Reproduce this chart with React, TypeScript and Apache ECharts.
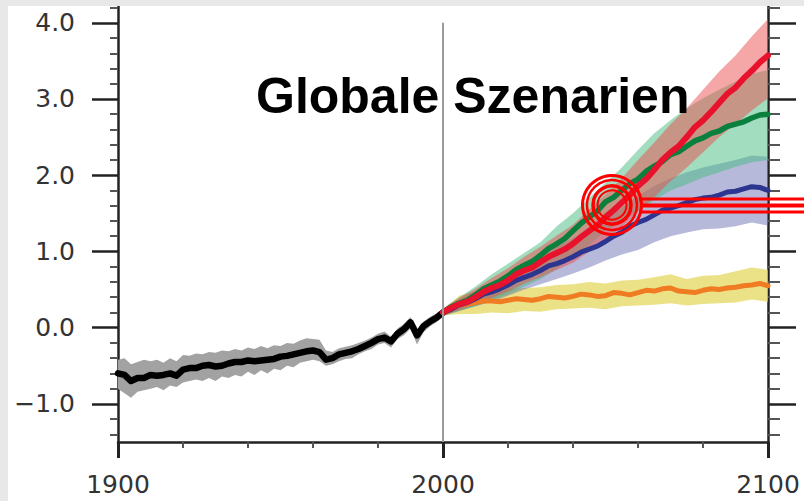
import React, { useEffect, useRef } from "react";
import * as echarts from "echarts";

// ---- Data ----
const histYears = [1900,1902,1904,1906,1908,1910,1912,1914,1916,1918,1920,1922,1924,1926,1928,1930,1932,1934,1936,1938,1940,1942,1944,1946,1948,1950,1952,1954,1956,1958,1960,1962,1964,1966,1968,1970,1972,1974,1976,1978,1980,1982,1984,1986,1988,1990,1992,1994,1996,1998,2000];
const histMean = [-0.60,-0.62,-0.70,-0.66,-0.66,-0.62,-0.63,-0.62,-0.60,-0.63,-0.55,-0.53,-0.53,-0.50,-0.49,-0.51,-0.50,-0.47,-0.45,-0.45,-0.43,-0.44,-0.43,-0.42,-0.41,-0.38,-0.37,-0.35,-0.33,-0.31,-0.30,-0.32,-0.42,-0.40,-0.35,-0.33,-0.31,-0.28,-0.24,-0.20,-0.15,-0.13,-0.18,-0.08,-0.02,0.07,-0.10,0.02,0.08,0.13,0.20];
const histLow = [-0.80,-0.86,-0.92,-0.84,-0.82,-0.80,-0.78,-0.82,-0.76,-0.78,-0.72,-0.70,-0.68,-0.70,-0.66,-0.70,-0.64,-0.66,-0.62,-0.64,-0.58,-0.62,-0.56,-0.60,-0.54,-0.56,-0.50,-0.52,-0.46,-0.44,-0.42,-0.44,-0.50,-0.48,-0.44,-0.41,-0.40,-0.35,-0.31,-0.28,-0.22,-0.20,-0.26,-0.15,-0.10,-0.01,-0.22,-0.06,0.02,0.07,0.15];
const histHigh = [-0.42,-0.40,-0.48,-0.45,-0.42,-0.44,-0.42,-0.46,-0.40,-0.44,-0.36,-0.37,-0.34,-0.35,-0.32,-0.33,-0.30,-0.31,-0.28,-0.30,-0.26,-0.28,-0.24,-0.27,-0.23,-0.24,-0.20,-0.21,-0.17,-0.14,-0.15,-0.16,-0.30,-0.32,-0.27,-0.25,-0.23,-0.20,-0.17,-0.13,-0.08,-0.05,-0.12,-0.01,0.05,0.14,-0.03,0.08,0.14,0.19,0.25];

// scenario bands (5-year steps)
const bandYears = [2000,2005,2010,2015,2020,2025,2030,2035,2040,2045,2050,2055,2060,2065,2070,2075,2080,2085,2090,2095,2100];
const a2Low = [0.16,0.23,0.30,0.39,0.47,0.58,0.66,0.76,0.85,1.00,1.15,1.32,1.52,1.71,1.92,2.10,2.30,2.50,2.67,2.85,3.01];
const a2High = [0.25,0.39,0.51,0.65,0.78,0.93,1.06,1.21,1.35,1.55,1.75,1.96,2.20,2.43,2.67,2.88,3.12,3.36,3.57,3.82,4.05];
const a1bLow = [0.15,0.22,0.28,0.36,0.44,0.54,0.64,0.77,0.92,1.08,1.27,1.40,1.53,1.67,1.80,1.88,1.97,2.04,2.11,2.17,2.20];
const a1bHigh = [0.25,0.40,0.54,0.70,0.84,0.98,1.12,1.33,1.50,1.70,1.90,2.10,2.33,2.55,2.72,2.88,3.01,3.12,3.23,3.33,3.38];
const b1Low = [0.16,0.22,0.28,0.34,0.42,0.50,0.57,0.64,0.71,0.79,0.88,0.96,1.02,1.12,1.20,1.25,1.29,1.30,1.33,1.38,1.34];
const b1High = [0.24,0.37,0.48,0.60,0.71,0.83,0.95,1.06,1.17,1.30,1.42,1.57,1.73,1.86,1.96,2.04,2.10,2.15,2.20,2.26,2.24];
const constLow = [0.16,0.18,0.18,0.20,0.19,0.22,0.21,0.24,0.25,0.26,0.24,0.28,0.29,0.30,0.32,0.29,0.31,0.32,0.33,0.37,0.34];
const constHigh = [0.24,0.42,0.47,0.49,0.51,0.52,0.53,0.56,0.57,0.60,0.58,0.62,0.63,0.66,0.70,0.64,0.68,0.69,0.74,0.79,0.76];

// scenario means (2.5-year steps)
const scenYears = [2000,2002.5,2005,2007.5,2010,2012.5,2015,2017.5,2020,2022.5,2025,2027.5,2030,2032.5,2035,2037.5,2040,2042.5,2045,2047.5,2050,2052.5,2055,2057.5,2060,2062.5,2065,2067.5,2070,2072.5,2075,2077.5,2080,2082.5,2085,2087.5,2090,2092.5,2095,2097.5,2100];
const a2Mean = [0.20,0.26,0.31,0.34,0.40,0.47,0.52,0.56,0.62,0.70,0.75,0.79,0.86,0.93,0.98,1.03,1.10,1.19,1.27,1.34,1.45,1.54,1.64,1.74,1.86,1.95,2.07,2.20,2.30,2.38,2.50,2.63,2.72,2.83,2.95,3.07,3.15,3.27,3.37,3.48,3.57];
const a1bMean = [0.20,0.27,0.32,0.36,0.43,0.51,0.56,0.61,0.68,0.76,0.82,0.87,0.95,1.04,1.10,1.17,1.27,1.37,1.45,1.53,1.65,1.71,1.80,1.89,1.95,2.05,2.12,2.18,2.27,2.31,2.38,2.45,2.49,2.55,2.58,2.64,2.67,2.70,2.75,2.79,2.80];
const b1Mean = [0.20,0.24,0.30,0.33,0.38,0.44,0.47,0.51,0.56,0.62,0.66,0.70,0.75,0.81,0.84,0.88,0.93,0.99,1.03,1.07,1.13,1.20,1.25,1.33,1.38,1.42,1.48,1.54,1.57,1.60,1.64,1.68,1.70,1.71,1.74,1.78,1.79,1.82,1.85,1.84,1.80];
const constMean = [0.20,0.27,0.30,0.31,0.33,0.35,0.35,0.34,0.36,0.38,0.37,0.36,0.38,0.41,0.40,0.39,0.41,0.44,0.43,0.41,0.42,0.46,0.45,0.43,0.46,0.49,0.48,0.51,0.52,0.48,0.47,0.46,0.49,0.51,0.50,0.52,0.53,0.55,0.56,0.58,0.55];

const yMajorTicks = [-1, 0, 1, 2, 3, 4];
const yMinorTicks = [-1.4,-1.2,-0.8,-0.6,-0.4,-0.2,0.2,0.4,0.6,0.8,1.2,1.4,1.6,1.8,2.2,2.4,2.6,2.8,3.2,3.4,3.6,3.8,4.2];
const titleText = "Globale Szenarien";

// ---- helpers ----
const pairs = (xs: number[], ys: number[]) => xs.map((x, i) => [x, ys[i]]);

function bandSeries(id: string, xs: number[], lo: number[], hi: number[], color: string) {
  return {
    type: "custom",
    name: id + "-band",
    silent: true,
    clip: true,
    data: xs.map((x, i) => [x, lo[i], hi[i]]),
    encode: { x: 0, y: [1, 2] },
    renderItem: (params: any, api: any) => {
      if (params.dataIndexInside !== 0) return null;
      const n = params.dataInsideLength;
      const upper: number[][] = [];
      const lower: number[][] = [];
      for (let j = 0; j < n; j++) {
        const x = api.value(0, j);
        upper.push(api.coord([x, api.value(2, j)]));
        lower.push(api.coord([x, api.value(1, j)]));
      }
      return {
        type: "polygon",
        shape: { points: upper.concat(lower.reverse()) },
        style: { fill: color, stroke: "none" },
        silent: true,
      };
    },
  };
}

function lineSeries(name: string, xs: number[], ys: number[], color: string, width: number, extra: any = {}) {
  return {
    type: "line",
    name,
    data: pairs(xs, ys),
    symbol: "none",
    silent: true,
    lineStyle: { color, width, join: "round", cap: "round" },
    ...extra,
  };
}

const labelFont = "'DejaVu Sans', sans-serif";
const axisColor = "#222";

export default function App() {
  const ref = useRef<HTMLDivElement>(null);
  useEffect(() => {
    if (!ref.current) return;
    const chart = echarts.init(ref.current, null, { renderer: "svg" });
    const yFmt = (v: number) => (v < 0 ? "\u2212" + Math.abs(v).toFixed(1) : v.toFixed(1));
    const yBase = { type: "value", min: -1.5, max: 4.22, splitLine: { show: false } };
    chart.setOption({
      animation: false,
      grid: { left: 110, right: 36, top: 0, bottom: 59 },
      xAxis: {
        type: "value",
        min: 1900,
        max: 2100,
        interval: 100,
        splitLine: { show: false },
        axisLine: { show: true, onZero: false, lineStyle: { color: axisColor, width: 2.5 } },
        axisTick: { show: true, length: 16, lineStyle: { color: axisColor, width: 3 } },
        minorTick: { show: true, splitNumber: 5, length: 6, lineStyle: { color: "#555", width: 2 } },
        minorSplitLine: { show: false },
        axisLabel: { fontSize: 25, fontFamily: labelFont, color: "#333", margin: 30, formatter: (v: number) => String(v) },
      },
      yAxis: [
        {
          ...yBase,
          position: "left",
          axisLine: { show: true, onZero: false, lineStyle: { color: axisColor, width: 2.5 } },
          axisTick: { show: true, customValues: yMajorTicks, length: 26, lineStyle: { color: axisColor, width: 2.5 } },
          axisLabel: { show: true, customValues: yMajorTicks, fontSize: 25, fontFamily: labelFont, color: "#333", margin: 43, formatter: yFmt },
        },
        {
          ...yBase,
          position: "left",
          axisLine: { show: false },
          axisTick: { show: true, customValues: yMinorTicks, length: 8, lineStyle: { color: "#555", width: 2 } },
          axisLabel: { show: false },
        },
        {
          ...yBase,
          position: "right",
          axisLine: { show: true, onZero: false, lineStyle: { color: axisColor, width: 2.5 } },
          axisTick: { show: true, customValues: yMajorTicks, length: 28, lineStyle: { color: axisColor, width: 2.5 } },
          axisLabel: { show: false },
        },
        {
          ...yBase,
          position: "right",
          axisLine: { show: false },
          axisTick: { show: true, customValues: yMinorTicks, length: 12, lineStyle: { color: "#555", width: 2 } },
          axisLabel: { show: false },
        },
      ],
      series: [
        bandSeries("hist", histYears, histLow, histHigh, "#a2a2a2"),
        bandSeries("const", bandYears, constLow, constHigh, "rgba(226,214,85,0.7)"),
        bandSeries("b1", bandYears, b1Low, b1High, "rgba(112,116,182,0.5)"),
        bandSeries("a1b", bandYears, a1bLow, a1bHigh, "rgba(70,188,128,0.5)"),
        bandSeries("a2", bandYears, a2Low, a2High, "rgba(236,78,78,0.5)"),
        lineSeries("hist", histYears, histMean, "#000000", 6.5, {
          markLine: {
            silent: true,
            symbol: ["none", "none"],
            label: { show: false },
            lineStyle: { color: "#9a9a9a", width: 2, type: "solid" },
            data: [[{ coord: [2000, -1.5] }, { coord: [2000, 4.0] }]],
          },
        }),
        lineSeries("const", scenYears, constMean, "#ef7b22", 5),
        lineSeries("b1", scenYears, b1Mean, "#2c3590", 5),
        lineSeries("a1b", scenYears, a1bMean, "#0b7f3e", 5.5),
        lineSeries("a2", scenYears, a2Mean, "#e8122c", 6),
      ],
      graphic: [
        {
          type: "text",
          z: 100,
          style: {
            text: titleText,
            x: 248,
            y: 90,
            fontSize: 50,
            fontWeight: "bold",
            fontFamily: "'Liberation Sans', Arial, sans-serif",
            fill: "#000",
            align: "left",
            verticalAlign: "middle",
          },
        },
        { type: "circle", z: 100, shape: { cx: 604, cy: 199, r: 29.5 }, style: { fill: "none", stroke: "#ff0000", lineWidth: 3 } },
        { type: "circle", z: 100, shape: { cx: 604, cy: 199, r: 25 }, style: { fill: "none", stroke: "#ff0000", lineWidth: 2.5 } },
        { type: "circle", z: 100, shape: { cx: 604, cy: 199, r: 19 }, style: { fill: "none", stroke: "#ff0000", lineWidth: 3.5 } },
        { type: "circle", z: 100, shape: { cx: 604, cy: 199, r: 14.5 }, style: { fill: "none", stroke: "#ff0000", lineWidth: 2 } },
        { type: "line", z: 100, shape: { x1: 631, y1: 193, x2: 796, y2: 193 }, style: { stroke: "#ff0000", lineWidth: 3 } },
        { type: "line", z: 100, shape: { x1: 633, y1: 199.5, x2: 796, y2: 199.5 }, style: { stroke: "#ff0000", lineWidth: 4 } },
        { type: "line", z: 100, shape: { x1: 631, y1: 206, x2: 796, y2: 206 }, style: { stroke: "#ff0000", lineWidth: 3 } },
      ],
    });
    return () => chart.dispose();
  }, []);

  return (
    <div style={{ position: "fixed", left: 0, top: 0, width: 804, height: 501, background: "#e8e8e8" }}>
      <div
        ref={ref}
        style={{ position: "absolute", left: 8, top: 6, width: 796, height: 495, background: "#ffffff" }}
      />
    </div>
  );
}
